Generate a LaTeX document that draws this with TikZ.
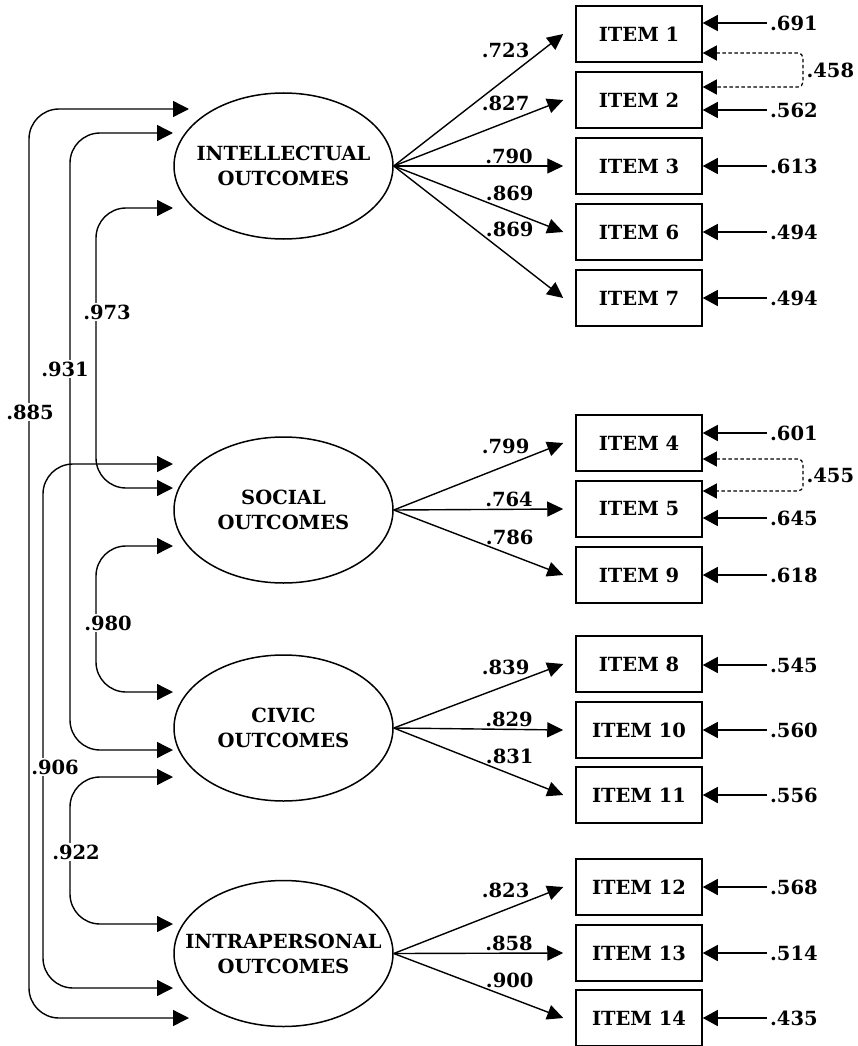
\documentclass[tikz,border=0pt]{standalone}
\usepackage{fontspec}
\setmainfont{DejaVu Serif}
\usetikzlibrary{arrows.meta,shapes.geometric}
\begin{document}
\begin{tikzpicture}[x=1pt,y=-1pt,
  font=\bfseries\fontsize{19.5}{25}\selectfont,
  lat/.style={ellipse, draw, line width=1.5pt, minimum width=219pt, minimum height=146pt, inner sep=0pt},
  lattext/.style={align=center, inner sep=0pt},
  obs/.style={rectangle, draw, line width=1.5pt, minimum width=126pt, minimum height=56pt, inner sep=0pt},
  load/.style={line width=1.4pt, -{Triangle[length=16pt,width=15pt]}},
  errar/.style={line width=1.4pt, -{Triangle[length=15pt,width=16pt]}},
  rescov/.style={line width=1.2pt, dash pattern=on 3.5pt off 2.5pt, rounded corners=5pt,
     {Triangle[length=14pt,width=15pt]}-{Triangle[length=14pt,width=15pt]}},
  facov/.style={line width=1.4pt, rounded corners=30pt,
     {Triangle[length=16pt,width=16pt]}-{Triangle[length=16pt,width=16pt]}},
  errl/.style={anchor=west, inner sep=3pt},
  covl/.style={fill=white, inner sep=1.5pt},
  up/.style={pos=0.81, anchor=south east, inner sep=1pt},
  flat/.style={pos=0.68, anchor=south, inner sep=2pt},
  down/.style={pos=0.54, anchor=south west, inner sep=0pt},
]
\fill[white] (0,0) rectangle (858,1046);
\useasboundingbox (0,0) rectangle (858,1046);

% latent factors
\node[lat] (intel) at (283.5,166) {};
\node[lattext] (intelt) at (intel) {INTELLECTUAL\\OUTCOMES};
\node[lat] (soc) at (283.5,510) {};
\node[lattext] (soct) at (soc) {SOCIAL\\OUTCOMES};
\node[lat] (civ) at (283.5,728) {};
\node[lattext] (civt) at (civ) {CIVIC\\OUTCOMES};
\node[lat] (intra) at (283.5,953.5) {};
\node[lattext] (intrat) at (intra) {INTRAPERSONAL\\OUTCOMES};

% items
\node[obs] (i1) at (639,34) {ITEM 1};
\node[obs] (i2) at (639,100) {ITEM 2};
\node[obs] (i3) at (639,166) {ITEM 3};
\node[obs] (i6) at (639,232) {ITEM 6};
\node[obs] (i7) at (639,298) {ITEM 7};
\node[obs] (i4) at (639,443) {ITEM 4};
\node[obs] (i5) at (639,509) {ITEM 5};
\node[obs] (i9) at (639,575) {ITEM 9};
\node[obs] (i8) at (639,664) {ITEM 8};
\node[obs] (i10) at (639,730) {ITEM 10};
\node[obs] (i11) at (639,795) {ITEM 11};
\node[obs] (i12) at (639,887) {ITEM 12};
\node[obs] (i13) at (639,953) {ITEM 13};
\node[obs] (i14) at (639,1018) {ITEM 14};

% loadings
\draw[load] (intel.east) -- node[up] (l1) {.723} ([xshift=-12pt]i1.west);
\draw[load] (intel.east) -- node[up] (l2) {.827} ([xshift=-12pt]i2.west);
\draw[load] (intel.east) -- node[flat] (l3) {.790} ([xshift=-12pt]i3.west);
\draw[load] (intel.east) -- node[down] (l6) {.869} ([xshift=-12pt]i6.west);
\draw[load] (intel.east) -- node[down] (l7) {.869} ([xshift=-12pt]i7.west);
\draw[load] (soc.east) -- node[up] (l4) {.799} ([xshift=-12pt]i4.west);
\draw[load] (soc.east) -- node[flat] (l5) {.764} ([xshift=-12pt]i5.west);
\draw[load] (soc.east) -- node[down] (l9) {.786} ([xshift=-12pt]i9.west);
\draw[load] (civ.east) -- node[up] (l8) {.839} ([xshift=-12pt]i8.west);
\draw[load] (civ.east) -- node[flat] (l10) {.829} ([xshift=-12pt]i10.west);
\draw[load] (civ.east) -- node[down] (l11) {.831} ([xshift=-12pt]i11.west);
\draw[load] (intra.east) -- node[up] (l12) {.823} ([xshift=-12pt]i12.west);
\draw[load] (intra.east) -- node[flat] (l13) {.858} ([xshift=-12pt]i13.west);
\draw[load] (intra.east) -- node[down] (l14) {.900} ([xshift=-12pt]i14.west);

% error terms
\node[errl] (e1) at (767,23) {.691};
\node[errl] (e2) at (767,110) {.562};
\node[errl] (e3) at (767,166) {.613};
\node[errl] (e6) at (767,232) {.494};
\node[errl] (e7) at (767,298) {.494};
\node[errl] (e4) at (767,433) {.601};
\node[errl] (e5) at (767,518) {.645};
\node[errl] (e9) at (767,575) {.618};
\node[errl] (e8) at (767,665) {.545};
\node[errl] (e10) at (767,730) {.560};
\node[errl] (e11) at (767,795) {.556};
\node[errl] (e12) at (767,887) {.568};
\node[errl] (e13) at (767,953) {.514};
\node[errl] (e14) at (767,1018) {.435};
\foreach \k in {1,2,3,6,7,4,5,9,8,10,11,12,13,14}
  \draw[errar] (e\k.west) -- (e\k.west -| i\k.east);

% residual covariances
\coordinate (r1) at (803,53);
\coordinate (r2) at (803,87);
\draw[rescov] (r1 -| i1.east) -- (r1) -- node[right, inner sep=3pt] (c12) {.458} (r2) -- (r2 -| i2.east);
\coordinate (r4) at (803,459);
\coordinate (r5) at (803,491);
\draw[rescov] (r4 -| i4.east) -- (r4) -- node[right, inner sep=3pt] (c45) {.455} (r5) -- (r5 -| i5.east);

% factor covariances
\coordinate (a885) at (189,109);  \coordinate (b885) at (189,1018);
\coordinate (a931) at (173,133);  \coordinate (b931) at (173,750);
\coordinate (a973) at (173,208);  \coordinate (b973) at (173,488);
\coordinate (a906) at (173,464);  \coordinate (b906) at (173,988);
\coordinate (a980) at (173,546);  \coordinate (b980) at (173,692);
\coordinate (a922) at (173,777);  \coordinate (b922) at (173,924);

\draw[facov] (a885) -- (29,109) -- (29,1018) -- (b885);
\draw[facov] (a931) -- (70,133) -- (70,750) -- (b931);
\draw[facov] (a973) -- (96,208) -- (96,488) -- (b973);
\draw[facov] (a906) -- (43,464) -- (43,988) -- (b906);
\draw[facov] (a980) -- (96,546) -- (96,692) -- (b980);
\draw[facov] (a922) -- (70,777) -- (70,924) -- (b922);

\node[covl] (k885) at (30,412) {.885};
\node[covl] (k931) at (65,369) {.931};
\node[covl] (k973) at (107,312) {.973};
\node[covl] (k980) at (108,623) {.980};
\node[covl] (k906) at (55,767) {.906};
\node[covl] (k922) at (76,852) {.922};
\end{tikzpicture}
\end{document}
